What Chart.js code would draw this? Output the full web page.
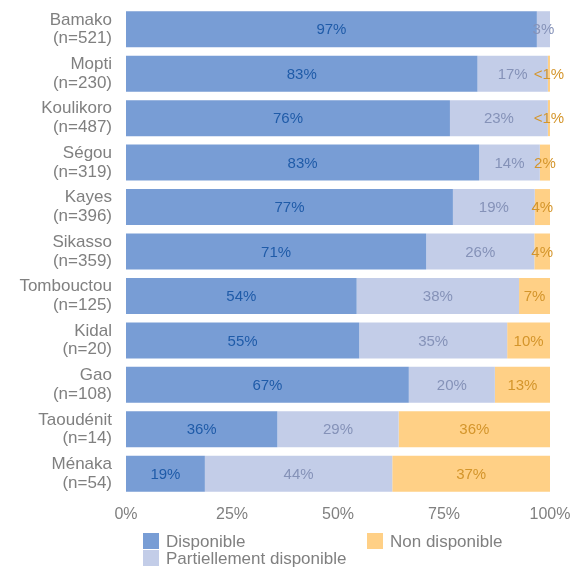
<!DOCTYPE html>
<html>
<head>
<meta charset="utf-8">
<script src="https://cdn.jsdelivr.net/npm/chart.js@4/dist/chart.umd.min.js"></script>
<style>
  html, body { margin: 0; padding: 0; background: #fff; }
  #wrap { width: 573px; height: 567px; position: relative; }
</style>
</head>
<body>
<div id="wrap"><canvas id="grafico"></canvas></div>
<script>
// dados (% por région)
const regions = [
    ["Bamako", "(n=521)"], ["Mopti", "(n=230)"], ["Koulikoro", "(n=487)"],
    ["Ségou", "(n=319)"], ["Kayes", "(n=396)"], ["Sikasso", "(n=359)"],
    ["Tombouctou", "(n=125)"], ["Kidal", "(n=20)"], ["Gao", "(n=108)"],
    ["Taoudénit", "(n=14)"], ["Ménaka", "(n=54)"]
];
const disponible = [96.9, 82.9, 76.4, 83.3, 77.1, 70.8, 54.4, 55.0, 66.7, 35.7, 18.6];
const partiel = [3.1, 16.6, 23.1, 14.3, 19.3, 25.5, 38.3, 34.9, 20.3, 28.6, 44.2];
const nonDisponible = [0, 0.5, 0.5, 2.4, 3.6, 3.7, 7.3, 10.1, 13.0, 35.7, 37.2];
const seriesNames = ["Disponible", "Partiellement disponible", "Non disponible"];
const xTicks = [0, 25, 50, 75, 100];

const cores = ["#789dd5", "#c3cde8", "#ffd086"];
const coresTexto = ["#1f5ba8", "#8592b8", "#d4952b"];
const fonte = "'Liberation Sans', Arial, sans-serif";

function rotulo(v) {
    if (v < 1) return "<1%";
    return Math.round(v) + "%";
}

// rótulos centrados em cada segmento
const pluginRotulos = {
    id: "rotulos",
    afterDatasetsDraw(chart) {
        const ctx = chart.ctx;
        ctx.save();
        ctx.font = "15px " + fonte;
        ctx.textAlign = "center";
        ctx.textBaseline = "middle";
        chart.data.datasets.forEach(function (ds, i) {
            const meta = chart.getDatasetMeta(i);
            meta.data.forEach(function (bar, j) {
                const v = ds.data[j];
                if (!v) return;
                ctx.fillStyle = coresTexto[i];
                ctx.fillText(rotulo(v), (bar.x + bar.base) / 2, bar.y + 1);
            });
        });
        ctx.restore();
    }
};

// legenda em duas colunas, como no original
const pluginLegenda = {
    id: "legendaGrade",
    afterDraw(chart) {
        const ctx = chart.ctx;
        const pos = [[143, 533], [143, 550], [367, 533]];
        ctx.save();
        ctx.font = "17px " + fonte;
        ctx.textBaseline = "middle";
        chart.data.datasets.forEach(function (ds, i) {
            const p = pos[i];
            ctx.fillStyle = ds.backgroundColor;
            ctx.fillRect(p[0], p[1], 16, 16);
            ctx.fillStyle = "#808080";
            ctx.fillText(ds.label, p[0] + 23, p[1] + 9);
        });
        ctx.restore();
    }
};

const ctx = document.getElementById("grafico").getContext("2d");
new Chart(ctx, {
    type: "bar",
    data: {
        labels: regions,
        datasets: [
            { label: seriesNames[0], data: disponible, backgroundColor: cores[0] },
            { label: seriesNames[1], data: partiel, backgroundColor: cores[1] },
            { label: seriesNames[2], data: nonDisponible, backgroundColor: cores[2] }
        ]
    },
    options: {
        indexAxis: "y",
        responsive: true,
        maintainAspectRatio: false,
        animation: false,
        layout: { padding: { top: 7, right: 23, bottom: 43, left: 0 } },
        datasets: {
            bar: { categoryPercentage: 1, barPercentage: 0.81, borderWidth: 0 }
        },
        plugins: {
            legend: { display: false },
            tooltip: { enabled: false }
        },
        scales: {
            x: {
                stacked: true,
                min: 0,
                max: 100,
                grid: { display: false, drawTicks: false },
                border: { display: false },
                afterBuildTicks: function (scale) {
                    scale.ticks = xTicks.map(v => ({ value: v }));
                },
                afterFit: function (scale) {
                    scale.height = 28;
                    scale.paddingLeft = 0;
                    scale.paddingRight = 0;
                },
                ticks: {
                    padding: 9,
                    color: "#808080",
                    font: { family: fonte, size: 16 },
                    callback: v => v + "%"
                }
            },
            y: {
                stacked: true,
                grid: { display: false, drawTicks: false },
                border: { display: false },
                afterFit: function (scale) {
                    scale.width = 126;
                    scale.paddingTop = 0;
                    scale.paddingBottom = 0;
                },
                ticks: {
                    padding: 14,
                    color: "#808080",
                    font: { family: fonte, size: 17, lineHeight: 1.1 }
                }
            }
        }
    },
    plugins: [pluginRotulos, pluginLegenda]
});
</script>
</body>
</html>
